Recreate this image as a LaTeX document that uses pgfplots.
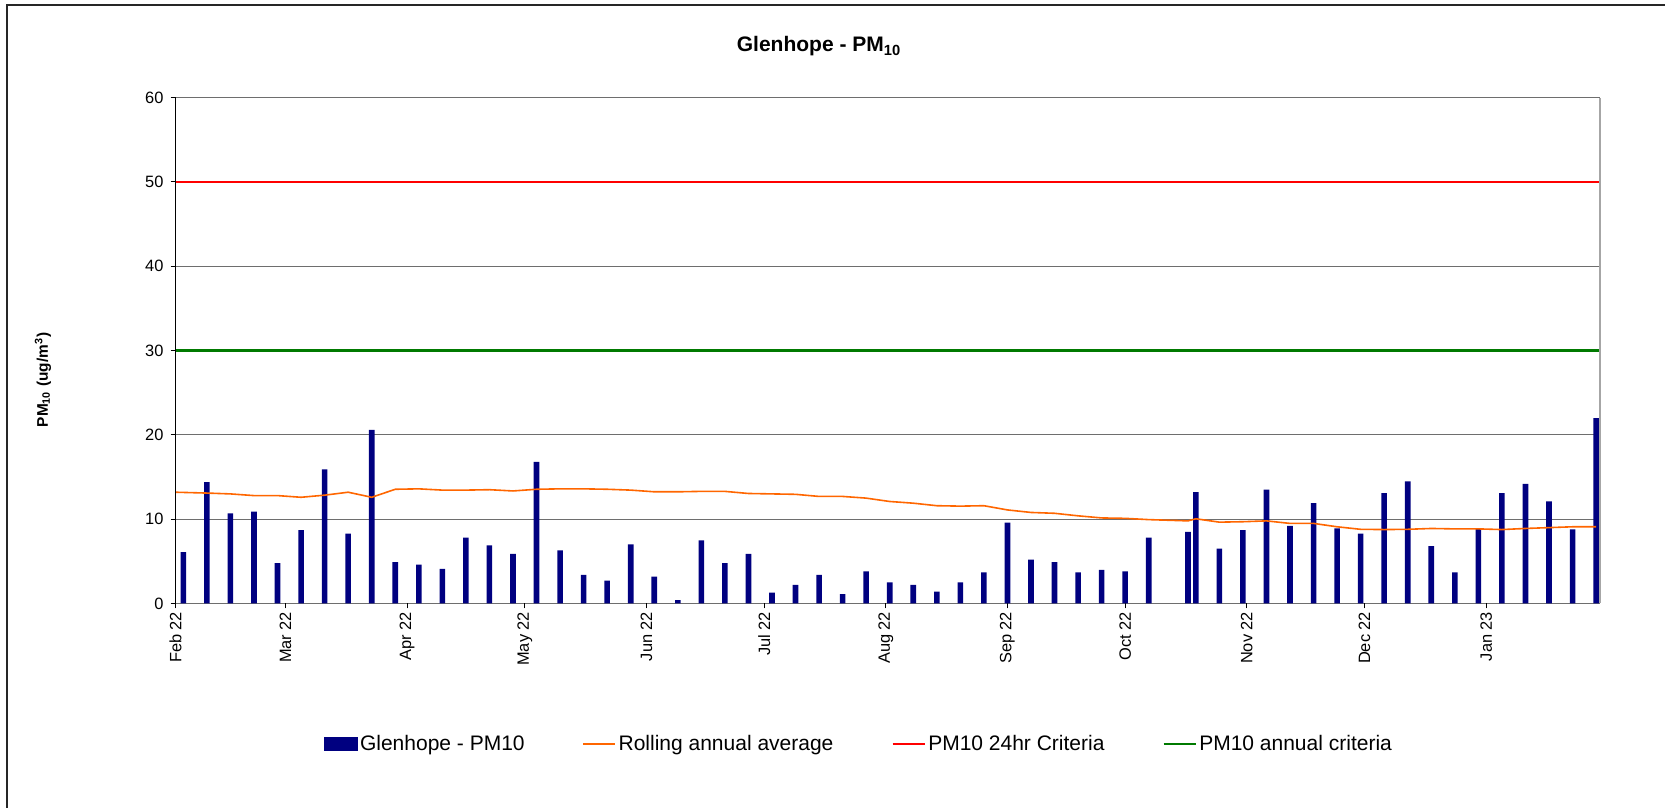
\documentclass[border=0pt]{standalone}
\usepackage{fontspec}
\setmainfont{Liberation Sans}
\usepackage{pgfplots}
\pgfplotsset{compat=1.18}
\definecolor{barblue}{HTML}{000080}
\definecolor{avgorange}{HTML}{FF6600}
\definecolor{critred}{HTML}{FF0000}
\definecolor{critgreen}{HTML}{007A00}
\definecolor{gridgray}{HTML}{6E6E6E}

\pgfplotstableread{
day value
2 6.1
8 14.4
14 10.7
20 10.9
26 4.8
32 8.7
38 15.9
44 8.3
50 20.6
56 4.9
62 4.6
68 4.1
74 7.8
80 6.9
86 5.9
92 16.8
98 6.3
104 3.4
110 2.7
116 7.0
122 3.2
128 0.4
134 7.5
140 4.8
146 5.9
152 1.3
158 2.2
164 3.4
170 1.1
176 3.8
182 2.5
188 2.2
194 1.4
200 2.5
206 3.7
212 9.6
218 5.2
224 4.9
230 3.7
236 4.0
242 3.8
248 7.8
258 8.5
260 13.2
266 6.5
272 8.7
278 13.5
284 9.2
290 11.9
296 8.9
302 8.3
308 13.1
314 14.5
320 6.8
326 3.7
332 8.9
338 13.1
344 14.2
350 12.1
356 8.8
362 22.0
}\pmdata

\pgfplotstableread{
day value
0 13.2
8 13.1
14 13.0
20 12.8
26 12.8
32 12.6
38 12.85
44 13.2
50 12.6
56 13.55
62 13.6
68 13.45
74 13.45
80 13.5
86 13.35
92 13.55
98 13.6
104 13.6
110 13.55
116 13.45
122 13.25
128 13.25
134 13.3
140 13.3
146 13.05
152 13.0
158 12.95
164 12.7
170 12.7
176 12.5
182 12.1
188 11.9
194 11.6
200 11.55
206 11.6
212 11.1
218 10.8
224 10.7
230 10.4
236 10.15
242 10.1
248 9.95
258 9.8
260 10.05
266 9.65
272 9.7
278 9.8
284 9.5
290 9.5
296 9.1
302 8.8
308 8.77
314 8.8
320 8.9
326 8.85
332 8.85
338 8.77
344 8.9
350 9.0
356 9.1
362 9.1
}\avgdata

\begin{document}
\begin{tikzpicture}
\useasboundingbox (0pt,0pt) rectangle (832.5pt,404pt);
\draw[line width=0.75pt, black!85] (3.5pt,0pt) -- (3.5pt,401.5pt) -- (832.5pt,401.5pt);
\node[font=\bfseries\fontsize{10.5}{12}\selectfont, anchor=base] at (409.5pt,378pt) {Glenhope - PM\textsubscript{10}};
\node[rotate=90, font=\bfseries\fontsize{7.7}{9}\selectfont] at (21.5pt,214pt) {PM\textsubscript{10} (ug/m\textsuperscript{3})};
\begin{axis}[
  at={(87.75pt,102.25pt)}, anchor=south west, scale only axis,
  width=712.25pt, height=252.9pt,
  xmin=0, xmax=363, ymin=0, ymax=60,
  clip=false,
  axis line style={draw=none},
  ytick={0,10,...,60},
  ymajorgrids, grid style={gridgray, line width=0.6pt},
  xtick={0,28,59,89,120,150,181,212,242,273,303,334},
  xticklabels={Feb 22, Mar 22, Apr 22, May 22, Jun 22, Jul 22, Aug 22, Sep 22, Oct 22, Nov 22, Dec 22, Jan 23},
  xtick pos=bottom, ytick pos=left,
  tick align=outside, major tick length=2.5pt,
  tick style={black, line width=0.5pt},
  xticklabel style={rotate=90, anchor=east, font=\fontsize{8.2}{9.5}\selectfont, inner sep=1.5pt},
  yticklabel style={font=\fontsize{8.2}{9.5}\selectfont},
  /pgf/number format/assume math mode=true,
  legend columns=4,
  legend style={at={(0.4798,-0.278)}, anchor=center, draw=none, fill=none,
    font=\fontsize{10.5}{12}\selectfont,
    /tikz/every even column/.append style={column sep=27.8pt},
    nodes={inner sep=1.2pt}},
  legend image code/.code={\draw[#1] (0pt,0pt) -- (16pt,0pt);},
]
\addplot[ybar, bar width=2.8pt, fill=barblue, draw=none,
  legend image code/.code={\fill[barblue] (0pt,-3.5pt) rectangle (17pt,3.5pt);}]
  table[x=day, y=value] {\pmdata};
\addlegendentry{Glenhope - PM10}
\addplot[avgorange, line width=0.8pt] table[x=day, y=value] {\avgdata};
\addlegendentry{Rolling annual average}
\addplot[critred, line width=1.2pt] coordinates {(0,50) (363,50)};
\addlegendentry{PM10 24hr Criteria}
\addplot[critgreen, line width=1.2pt] coordinates {(0,30) (363,30)};
\addlegendentry{PM10 annual criteria}
\draw[black, line width=0.5pt] (rel axis cs:0,0) -- (rel axis cs:0,1);
\draw[black!35, line width=0.6pt] (rel axis cs:1,0) -- (rel axis cs:1,1);
\end{axis}
\end{tikzpicture}
\end{document}
